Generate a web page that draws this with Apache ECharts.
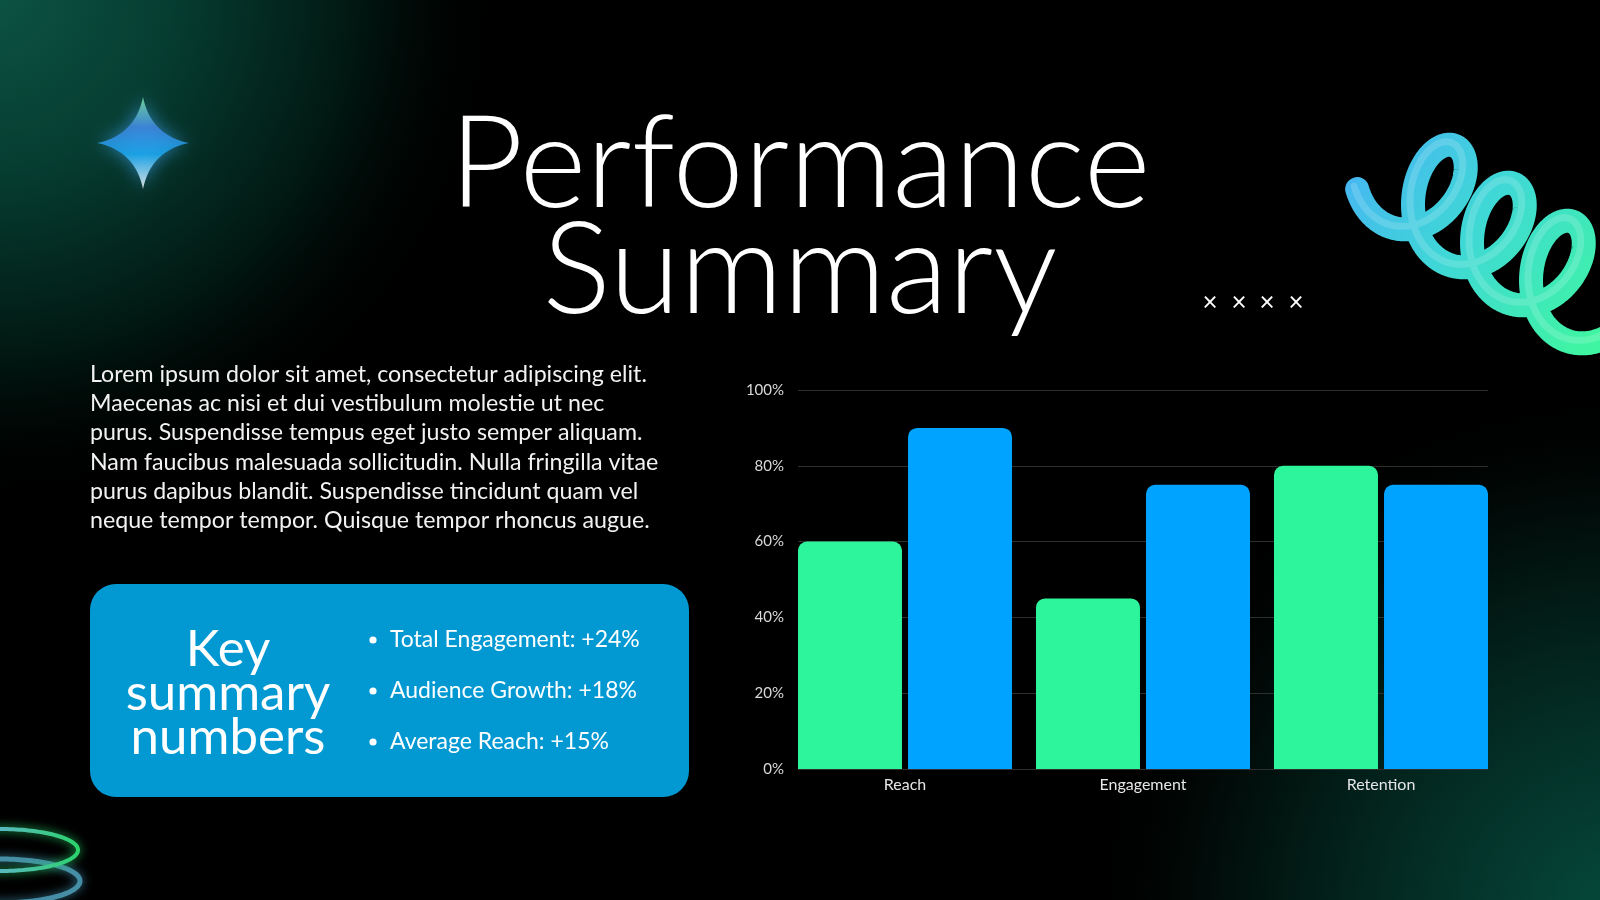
<!DOCTYPE html>
<html>
<head>
<meta charset="utf-8">
<title>Performance Summary</title>
<script src="https://cdn.jsdelivr.net/npm/echarts@6/dist/echarts.min.js"></script>
<style>
  html, body { margin: 0; padding: 0; background: #000; }
  #main { width: 1600px; height: 900px; }
</style>
</head>
<body>
<div id="main"></div>
<script>
// 数据
const categories = ['Reach', 'Engagement', 'Retention'];
const seriesGreen = [60, 45, 80];
const seriesBlue = [90, 75, 75];
const yTicks = [0, 20, 40, 60, 80, 100];

const bodyLines = [
    'Lorem ipsum dolor sit amet, consectetur adipiscing elit.',
    'Maecenas ac nisi et dui vestibulum molestie ut nec',
    'purus. Suspendisse tempus eget justo semper aliquam.',
    'Nam faucibus malesuada sollicitudin. Nulla fringilla vitae',
    'purus dapibus blandit. Suspendisse tincidunt quam vel',
    'neque tempor tempor. Quisque tempor rhoncus augue.'
];
const bullets = ['Total Engagement: +24%', 'Audience Growth: +18%', 'Average Reach: +15%'];

const FONT = 'Lato, "Open Sans", sans-serif';
const chart = echarts.init(document.getElementById('main'));

// 装饰：螺旋线（投影的螺旋，逆时针成环）
function coilPoints(dx, dy) {
    const pts = [];
    const u1 = [0.34, -0.94], u2 = [0.94, 0.34];
    const a = 53, b = -38, v = [59, 38];
    for (let t = -Math.PI * 1.3; t < Math.PI * 5.3; t += 0.03) {
        const k = t / (Math.PI * 2);
        const c = Math.cos(t), s = Math.sin(t);
        pts.push([1435 + dx + v[0] * k + a * c * u1[0] + b * s * u2[0],
                  195 + dy + v[1] * k + a * c * u1[1] + b * s * u2[1]]);
    }
    return pts;
}
// 装饰：四角星（二次贝塞尔采样）
function starPoints(cx, cy, R, c) {
    const tips = [[0, -R], [R, 0], [0, R], [-R, 0]];
    const pts = [];
    for (let i = 0; i < 4; i++) {
        const p = tips[i], q = tips[(i + 1) % 4];
        const ctrl = [(p[0] + q[0]) * c, (p[1] + q[1]) * c];
        for (let s = 0; s < 1; s += 0.05) {
            const u = 1 - s;
            pts.push([cx + u * u * p[0] + 2 * u * s * ctrl[0] + s * s * q[0],
                      cy + u * u * p[1] + 2 * u * s * ctrl[1] + s * s * q[1]]);
        }
    }
    return pts;
}
function ellipsePoints(cx, cy, rx, ry) {
    const pts = [];
    for (let t = 0; t < Math.PI * 2; t += 0.04) pts.push([cx + rx * Math.cos(t), cy + ry * Math.sin(t)]);
    return pts;
}

const coilGrad = () => new echarts.graphic.LinearGradient(1360, 150, 1600, 330, [
    { offset: 0, color: '#46b6f2' }, { offset: 0.45, color: '#3fd8d6' }, { offset: 1, color: '#3ff5a2' }], true);

const graphics = [
    { type: 'rect', z: -30, shape: { x: 0, y: 0, width: 1600, height: 900 }, style: { fill: '#000' }, silent: true },
    { type: 'rect', z: -29, shape: { x: 0, y: 0, width: 700, height: 700 }, silent: true,
      style: { fill: new echarts.graphic.RadialGradient(-10, -10, 520, [
          { offset: 0, color: '#0c5443' }, { offset: 0.35, color: '#063d31' },
          { offset: 0.7, color: '#011812' }, { offset: 1, color: 'rgba(0,0,0,0)' }], true) } },
    { type: 'rect', z: -29, shape: { x: 900, y: 400, width: 700, height: 500 }, silent: true,
      style: { fill: new echarts.graphic.RadialGradient(1620, 920, 540, [
          { offset: 0, color: '#064a3d' }, { offset: 0.45, color: '#032820' },
          { offset: 0.8, color: '#010907' }, { offset: 1, color: 'rgba(0,0,0,0)' }], true) } },
    // 星形
    { type: 'polygon', z: -5, silent: true, shape: { points: starPoints(143, 143, 46, 0.17) },
      style: { fill: new echarts.graphic.LinearGradient(0, 0, 0, 1, [
          { offset: 0, color: '#7de8a8' }, { offset: 0.33, color: '#3f86e0' },
          { offset: 0.62, color: '#19a8f0' }, { offset: 1, color: '#ffffff' }]),
        shadowBlur: 18, shadowColor: 'rgba(60,160,240,0.8)', opacity: 0.85 } },
    // 螺旋
    { type: 'polyline', z: -5, silent: true, shape: { points: coilPoints(0, 0) },
      style: { stroke: coilGrad(), lineWidth: 24, lineCap: 'round', lineJoin: 'round', fill: null,
        shadowBlur: 8, shadowColor: 'rgba(0,0,0,0.7)' } },
    { type: 'polyline', z: -4, silent: true, shape: { points: coilPoints(-3, -3) },
      style: { stroke: 'rgba(255,255,255,0.16)', lineWidth: 7, lineCap: 'round', lineJoin: 'round', fill: null } },
    // 左下角光环
    { type: 'polygon', z: -5, silent: true, shape: { points: ellipsePoints(0, 881, 80, 22) },
      style: { fill: null, stroke: '#4e9fb8', lineWidth: 5, shadowBlur: 10, shadowColor: '#3f8fb0', opacity: 0.85 } },
    { type: 'polygon', z: -5, silent: true, shape: { points: ellipsePoints(0, 850, 78, 21) },
      style: { fill: null, lineWidth: 4, shadowBlur: 10, shadowColor: '#22c060',
        stroke: new echarts.graphic.LinearGradient(0, 0, 80, 0, [
            { offset: 0, color: '#5ab8c0' }, { offset: 1, color: '#2ad46a' }], true) } },
    // 标题
    { type: 'text', z: 10, style: { text: 'Performance', x: 800, y: 166, align: 'center', verticalAlign: 'middle',
        font: '300 128px ' + FONT, fill: '#ffffff' } },
    { type: 'text', z: 10, style: { text: 'Summary', x: 800, y: 272, align: 'center', verticalAlign: 'middle',
        font: '300 128px ' + FONT, fill: '#ffffff' } },
    // 正文
    { type: 'text', z: 10, style: { text: bodyLines.join('\n'), x: 90, y: 360, verticalAlign: 'top',
        font: '23.2px ' + FONT, lineHeight: 29.2, fill: '#f2f2f2' } },
    // 摘要框
    { type: 'rect', z: 5, shape: { x: 90, y: 584, width: 599, height: 213, r: 26 }, style: { fill: '#0299d3' } },
    { type: 'text', z: 10, style: { text: 'Key\nsummary\nnumbers', x: 228, y: 694, align: 'center', verticalAlign: 'middle',
        font: '51px ' + FONT, lineHeight: 44, fill: '#ffffff' } }
];

bullets.forEach((b, i) => {
    const y = 640 + i * 51;
    graphics.push({ type: 'circle', z: 10, shape: { cx: 373, cy: y, r: 3.6 }, style: { fill: '#ffffff' } });
    graphics.push({ type: 'text', z: 10, style: { text: b, x: 390, y: y, verticalAlign: 'middle',
        font: '23px ' + FONT, fill: '#ffffff' } });
});

[1210, 1239, 1267, 1296].forEach(x => {
    graphics.push({ type: 'text', z: 10, style: { text: '×', x: x, y: 303, align: 'center', verticalAlign: 'middle',
        font: '26px ' + FONT, fill: '#ffffff' } });
});

const option = {
    backgroundColor: '#000',
    animation: false,
    graphic: { elements: graphics },
    grid: [
        { left: 798, right: 112, top: 390, bottom: 131 },   // 网格线与刻度
        { left: 786, right: 100, top: 390, bottom: 131 }    // 柱子
    ],
    xAxis: [
        { gridIndex: 0, type: 'value', min: 0, max: 1, show: false },
        { gridIndex: 1, type: 'category', data: categories,
          axisLine: { show: false }, axisTick: { show: false },
          axisLabel: { color: '#e6e6e6', fontSize: 16, fontFamily: FONT, margin: 8 } }
    ],
    yAxis: [
        { gridIndex: 0, type: 'value', min: yTicks[0], max: yTicks[yTicks.length - 1], interval: 20,
          axisLine: { show: false }, axisTick: { show: false },
          axisLabel: { color: '#d9d9d9', fontSize: 15, fontFamily: FONT, margin: 14, formatter: '{value}%' },
          splitLine: { lineStyle: { color: '#2e2e2e', width: 1 } } },
        { gridIndex: 1, type: 'value', min: 0, max: 100, show: false, splitLine: { show: false } }
    ],
    series: [
        { type: 'bar', xAxisIndex: 1, yAxisIndex: 1, data: seriesGreen, barWidth: 104, barGap: '5.8%',
          itemStyle: { color: '#2cf59b', borderRadius: [9, 9, 0, 0] } },
        { type: 'bar', xAxisIndex: 1, yAxisIndex: 1, data: seriesBlue, barWidth: 104, barGap: '5.8%',
          itemStyle: { color: '#00a3ff', borderRadius: [9, 9, 0, 0] } }
    ]
};
chart.setOption(option);
window.addEventListener('resize', () => chart.resize());
</script>
</body>
</html>
